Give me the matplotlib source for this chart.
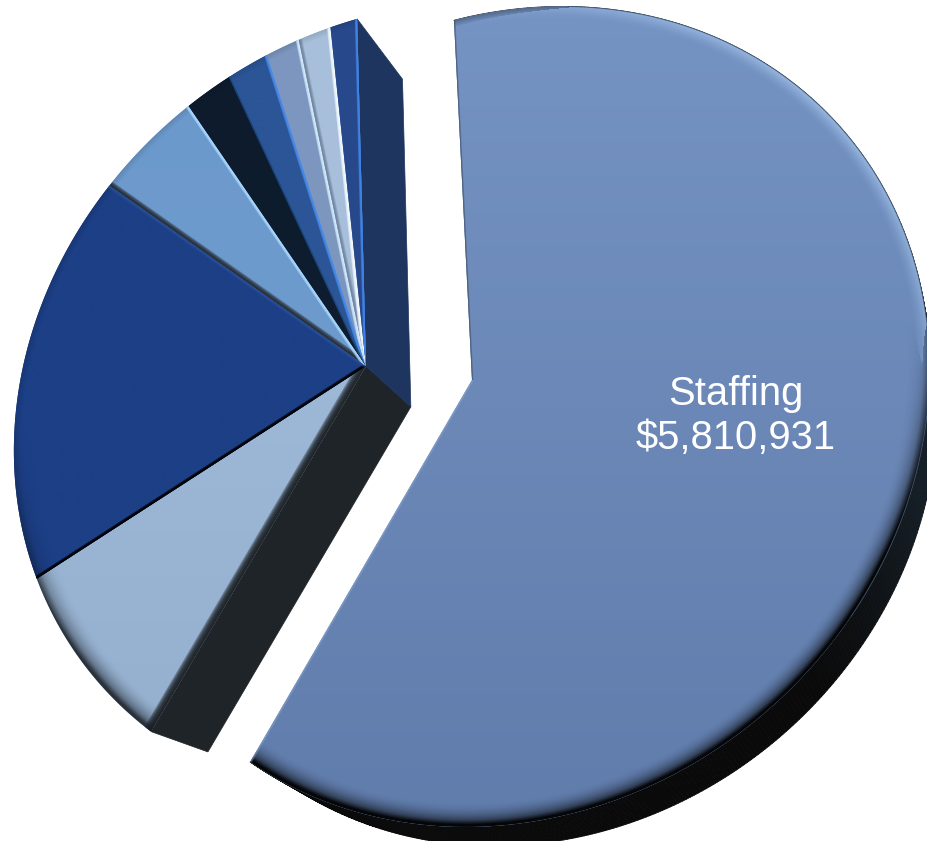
import numpy as np
import matplotlib
matplotlib.use("Agg")
import matplotlib.pyplot as plt
from matplotlib.collections import LineCollection, PolyCollection
from matplotlib.colors import to_rgb
from matplotlib.patches import Polygon

plt.rcParams["font.family"] = ["Liberation Sans", "DejaVu Sans"]

# Budget shares, clockwise starting with the exploded slice
slice_names = ["Staffing", "Slice B", "Slice C", "Slice D", "Slice E", "Slice F", "Slice G", "Slice H", "Slice I"]
slice_values = [5810931, 821000, 1874000, 489000, 219000, 180000, 148000, 142000, 116000]
colors_top = ["#7593c3", "#a6c1e0", "#1c3f86", "#6c99cc", "#0d1b2c", "#2b5596", "#7d97c0", "#a7bfdb", "#274a8c"]
colors_bottom = ["#607cab", "#93aecd", "#1c3f86", "#719dce", "#0f2033", "#2b5596", "#7a94bb", "#a8bfdb", "#27488a"]

# Soft strokes along the radial cuts: (colour, half width in px, strength)
start_edges = [
    ("#3d4a5c", 1.5, 0.7), ("#1b2024", 8, 0.95), ("#000000", 3.0, 1.0), ("#20252b", 5, 0.9),
    None, None, None, ("#5a6c84", 3.5, 0.7), None,
]
end_edges = [
    ("#93add6", 2, 0.6), None, ("#2b58ad", 3, 0.7), ("#a9d8ff", 3.2, 1.0),
    ("#1f4f8a", 2.0, 1.0), ("#4b8eee", 3.0, 1.0), ("#d4ecff", 3.2, 1.0), ("#f4fbff", 3.6, 1.0), ("#4387ea", 2.4, 1.0),
]
bevel_strength = [1.0, 0.75, 0.45, 0.4, 0.2, 0.35, 0.4, 0.4, 0.4]

# Face of the pie: projected circle with a tilted ellipse outline
ELLIPSE_CENTER = np.array([513.72, 416.69])
ELLIPSE_AXES = np.array([436.49, 388.18])
ELLIPSE_BASIS = np.array([[-0.74692, 0.66491], [0.66491, 0.74692]])
STAFF_APEX = np.array([472.0, 380.0])
REST_APEX = np.array([366.0, 366.0])
REST_SCALE = np.array([0.994, 1.01866])
REST_SHIFT = np.array([84.1, 5.13])
START_ANGLE = -125.28
REST_TURN = 0.28
SWEEP = 361.44
STAFF_DEPTH = 0.045
REST_DEPTH = 0.056
VANISH_STAFF = np.array([1100.0, 1250.0])
VANISH_REST = np.array([1167.0, 1095.0])
WIDTH, HEIGHT = 927, 841


def rim_points(phi_deg, apex):
    """Rim of the projected circle as seen with the circle centre falling on apex."""
    a = np.diag(1 / ELLIPSE_AXES) @ ELLIPSE_BASIS.T @ (apex - ELLIPSE_CENTER)
    beta = np.hypot(*a)
    u = a / beta
    g = 1 / np.sqrt(1 - beta**2)
    phi = np.radians(phi_deg)
    q = np.c_[np.cos(phi), np.sin(phi)]
    par = q @ u
    perp = q - np.outer(par, u)
    den = g * (1 + beta * par)
    n = np.outer(g * (par + beta) / den, u) + perp / den[:, None]
    return ELLIPSE_CENTER + (ELLIPSE_BASIS @ (ELLIPSE_AXES * n).T).T


def rest_rim(phi_deg):
    fitted_apex = REST_SCALE * REST_APEX + REST_SHIFT
    return (rim_points(phi_deg, fitted_apex) - REST_SHIFT) / REST_SCALE


def bevel_layer(scale, shift):
    """RGBA overlay: shadow on the lower rim, pale glint on the upper right."""
    xx, yy = np.meshgrid(np.arange(WIDTH) + 0.5, np.arange(HEIGHT) + 0.5)
    p = np.stack([xx * scale[0] + shift[0], yy * scale[1] + shift[1]], axis=-1) - ELLIPSE_CENTER
    local = (p @ ELLIPSE_BASIS) / ELLIPSE_AXES
    r = np.hypot(local[..., 0], local[..., 1])
    d = np.clip((1 - r) * 400, 0, None)
    n = p / np.linalg.norm(p, axis=-1, keepdims=True)
    dark = np.clip((n @ np.array([0.15, 1.0]) + 0.1) * 1.6, 0, 1)
    light = np.clip((n @ np.array([0.7, -0.7]) - 0.55) * 2.2, 0, 1)
    dark_a = dark * np.clip(1 - d / 24, 0, 1) ** 2 + 0.3 * np.clip(1 - d / 7, 0, 1)
    light_a = 0.55 * light * np.clip(1 - d / 14, 0, 1) ** 1.5
    out = np.zeros(p.shape[:2] + (4,))
    use_light = light_a > dark_a
    out[..., :3] = np.where(use_light[..., None], np.array(to_rgb("#b9dcff")), np.array(to_rgb("#050608")))
    out[..., 3] = np.clip(np.where(use_light, light_a, dark_a), 0, 1)
    return out


fig = plt.figure(figsize=(9.27, 8.41), dpi=100)
ax = fig.add_axes([0, 0, 1, 1])
ax.set_axis_off()

values = np.asarray(slice_values, float)
bounds = START_ANGLE - SWEEP * np.r_[0, np.cumsum(values)] / values.sum()

# Extruded sides first, so the top faces sit over them
wall_phi = np.linspace(bounds[0], bounds[1], 400)
front = rim_points(wall_phi, STAFF_APEX)
back = front + STAFF_DEPTH * (VANISH_STAFF - front)
quads = [np.array([front[i], front[i + 1], back[i + 1], back[i]]) for i in range(len(front) - 1)]
mix = np.clip((front[:-1, 1] - 470) / 200, 0, 1)[:, None]
wall_colors = (1 - mix) * np.array(to_rgb("#151e26")) + mix * np.array(to_rgb("#0a0a0a"))
ax.add_collection(PolyCollection(quads, facecolors=wall_colors, edgecolors=wall_colors, linewidths=0.6, zorder=1))


def side_face(phi, color):
    rim = rest_rim(np.array([phi]))[0]
    corners = [REST_APEX, rim, rim + REST_DEPTH * (VANISH_REST - rim), REST_APEX + REST_DEPTH * (VANISH_REST - REST_APEX)]
    ax.add_patch(Polygon(corners, closed=True, facecolor=color, edgecolor=color, lw=0.5, zorder=1))


side_face(bounds[1] + REST_TURN, "#1f2428")
side_face(bounds[-1] + REST_TURN, "#1e3560")


def soft_line(pts, color, half_px, strength, clip, zorder):
    layers = 6
    alpha = 1 - (1 - min(strength, 0.98)) ** (1 / layers)
    for k in np.linspace(1, 0.2, layers):
        line, = ax.plot(pts[:, 0], pts[:, 1], color=color, lw=2 * half_px * k / 1.39,
                        alpha=alpha, solid_capstyle="butt", zorder=zorder)
        line.set_clip_path(clip)


staff_bevel = bevel_layer(np.array([1.0, 1.0]), np.array([0.0, 0.0]))
rest_bevel = bevel_layer(REST_SCALE, REST_SHIFT)

for i, name in enumerate(slice_names):
    is_staff = i == 0
    turn = 0.0 if is_staff else REST_TURN
    phi = np.linspace(bounds[i], bounds[i + 1], max(int(abs(bounds[i + 1] - bounds[i]) * 4), 8)) + turn
    rim = rim_points(phi, STAFF_APEX) if is_staff else rest_rim(phi)
    apex = STAFF_APEX if is_staff else REST_APEX
    z = 2 + i * 0.01
    poly = Polygon(np.vstack([apex, rim]), closed=True, facecolor=colors_top[i], edgecolor="none", zorder=z)
    ax.add_patch(poly)

    # Top-to-bottom tint across the face
    ramp = np.linspace(np.array(to_rgb(colors_top[i])), np.array(to_rgb(colors_bottom[i])), 256)[:, None, :]
    im = ax.imshow(ramp, extent=(0, WIDTH, HEIGHT, 0), aspect="auto", zorder=z + 0.001, interpolation="bilinear")
    im.set_clip_path(poly)

    # Rim shading
    layer = (staff_bevel if is_staff else rest_bevel).copy()
    layer[..., 3] *= bevel_strength[i]
    im = ax.imshow(layer, extent=(0, WIDTH, HEIGHT, 0), aspect="auto", zorder=z + 0.002, interpolation="nearest")
    im.set_clip_path(poly)

    # Highlights and shadows on the radial cuts
    if start_edges[i]:
        color, half, strength = start_edges[i]
        soft_line(np.array([apex, rim[0]]), color, half, strength, poly, z + 0.003)
    if end_edges[i]:
        color, half, strength = end_edges[i]
        soft_line(np.array([apex, rim[-1]]), color, half, strength, poly, z + 0.003)

    if is_staff:
        segs = np.stack([rim[:-1], rim[1:]], axis=1)
        outward = rim[:-1] - ELLIPSE_CENTER
        outward = outward / np.linalg.norm(outward, axis=1, keepdims=True)
        upper_right = outward @ np.array([0.9, -0.44]) > 0.55
        ax.add_collection(LineCollection(segs[upper_right], colors="#3b4f68", linewidths=0.7, alpha=0.8, zorder=z + 0.004))

share_label = f"{slice_names[0]}\n${slice_values[0]:,.0f}"
ax.text(735.5, 416, share_label, color="white", fontsize=28.8, ha="center", va="center", linespacing=1.2, zorder=5)

ax.set_xlim(0, WIDTH)
ax.set_ylim(HEIGHT, 0)
fig.savefig("out.png", dpi=100, facecolor="white")
